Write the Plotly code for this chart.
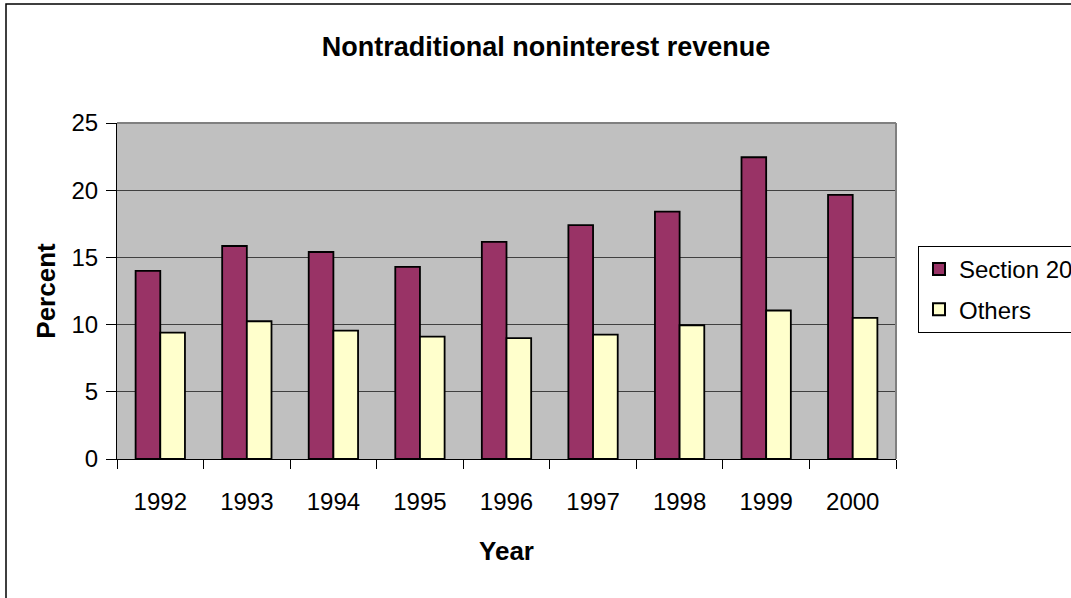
import plotly.graph_objects as go

years = ["1992", "1993", "1994", "1995", "1996", "1997", "1998", "1999", "2000"]
section20 = [14.0, 15.85, 15.4, 14.3, 16.15, 17.4, 18.4, 22.45, 19.65]
others = [9.4, 10.25, 9.55, 9.1, 9.0, 9.25, 9.95, 11.05, 10.5]

FONT = "Arial, 'Liberation Sans', sans-serif"
W, H = 1071, 598
L, R, T, B = 117, 896, 123, 459

fig = go.Figure()
fig.add_trace(go.Bar(x=years, y=section20, name="Section 20", legendgroup="a",
                     marker=dict(color="#993366", line=dict(color="black", width=1.8))))
fig.add_trace(go.Bar(x=years, y=others, name="Others", legendgroup="b",
                     marker=dict(color="#FFFFCC", line=dict(color="black", width=1.8))))

def px_to_paper_x(px):
    return (px - L) / (R - L)

def px_to_paper_y(py):
    return (B - py) / (B - T)

fig.update_layout(
    width=W, height=H,
    margin=dict(l=L, r=W - R, t=T, b=H - B, autoexpand=False),
    paper_bgcolor="white",
    plot_bgcolor="#C0C0C0",
    barmode="group",
    bargap=0.43,
    bargroupgap=0,
    font=dict(family=FONT, size=24, color="black"),
    title=dict(text="<b>Nontraditional noninterest revenue</b>",
               x=546 / W, xref="container", xanchor="center",
               y=1 - 47 / H, yref="container", yanchor="middle",
               font=dict(family=FONT, size=27, color="black")),
    showlegend=True,
    legend=dict(x=px_to_paper_x(918), xanchor="left",
                y=px_to_paper_y(246), yanchor="top",
                bgcolor="white", bordercolor="black", borderwidth=1,
                font=dict(family=FONT, size=24, color="black"),
                itemsizing="constant", tracegroupgap=6),
    xaxis=dict(
        type="category",
        showline=True, linecolor="black", linewidth=1,
        ticks="outside", tickson="boundaries", ticklen=9, tickcolor="black",
        showgrid=False,
        tickfont=dict(family=FONT, size=24, color="black"),
        ticklabelstandoff=21,
        title=dict(text="<b>Year</b>", standoff=28,
                   font=dict(family=FONT, size=26, color="black")),
    ),
    yaxis=dict(
        range=[0, 25], dtick=5,
        showline=True, linecolor="black", linewidth=1,
        ticks="outside", ticklen=10, tickcolor="black",
        showgrid=True, gridcolor="#404040", gridwidth=1,
        zeroline=False,
        tickfont=dict(family=FONT, size=24, color="black"),
        ticklabelstandoff=3,
        title=dict(text="<b>Percent</b>", standoff=8,
                   font=dict(family=FONT, size=26, color="black")),
    ),
)

# plot area border (top/right in gray)
fig.add_shape(type="line", xref="paper", yref="paper", x0=0, x1=1, y0=1, y1=1,
              line=dict(color="#808080", width=2))
fig.add_shape(type="line", xref="paper", yref="paper", x0=1, x1=1, y0=0, y1=1,
              line=dict(color="#808080", width=2))
# outer chart border
fig.add_shape(type="rect", xref="paper", yref="paper",
              x0=px_to_paper_x(6), x1=px_to_paper_x(1080),
              y0=px_to_paper_y(605), y1=px_to_paper_y(4),
              line=dict(color="black", width=1.5), layer="below")

fig.write_html("out.html", config={"displayModeBar": False, "staticPlot": True})

# remove the browser's default page margin so the figure sits at (0, 0)
with open("out.html", "r", encoding="utf-8") as f:
    html = f.read()
html = html.replace("<head>", "<head><style>html,body{margin:0;padding:0;overflow:hidden;}</style>", 1)
with open("out.html", "w", encoding="utf-8") as f:
    f.write(html)
